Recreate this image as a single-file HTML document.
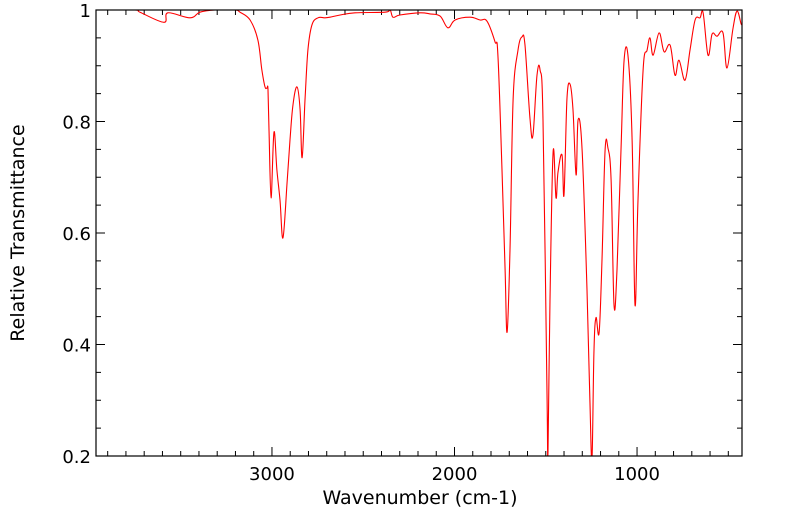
<!DOCTYPE html>
<html><head><meta charset="utf-8"><style>
html,body{margin:0;padding:0;background:#fff;}
svg{display:block;font-family:"DejaVu Sans","Liberation Sans",sans-serif;}
</style></head><body>
<svg id="chart" width="799" height="516" viewBox="0 0 799 516">
<defs><clipPath id="clip"><rect x="96" y="10" width="646" height="446"/></clipPath></defs>
<g id="axes"></g>
<path id="spectrum" clip-path="url(#clip)" fill="none" stroke="#ff0000" stroke-width="1.1" stroke-linejoin="round"/>
<rect x="96" y="10" width="646" height="446" fill="none" stroke="#000" stroke-width="1.2"/>
<text x="420" y="504" font-size="19" text-anchor="middle">Wavenumber (cm-1)</text>
<text transform="translate(24,233) rotate(-90)" font-size="19" text-anchor="middle">Relative Transmittance</text>
</svg>
<script>
const wavenumbers=[3964,3750,3723,3592,3570,3449,3395,3312,3203,3175,3120,3077,3055,3038,3027,3022,3016,3005,2989,2973,2956,2940,2918,2901,2885,2863,2846,2835,2819,2803,2781,2748,2709,2682,2627,2545,2381,2353,2337,2299,2189,2134,2079,2036,1997,1915,1860,1822,1778,1762,1740,1723,1712,1696,1679,1652,1630,1614,1586,1570,1548,1531,1515,1493,1488,1477,1460,1444,1433,1411,1400,1384,1367,1351,1334,1323,1301,1274,1258,1247,1236,1225,1208,1192,1175,1159,1142,1126,1110,1088,1071,1049,1027,1011,995,967,945,929,912,879,852,819,792,770,737,710,682,655,638,611,589,562,529,507,474,452,430,425];
const transmittance=[1.0,1.0,0.996,0.978,0.995,0.986,0.996,1.0,1.0,0.996,0.982,0.946,0.892,0.862,0.860,0.857,0.785,0.663,0.781,0.713,0.659,0.591,0.686,0.767,0.830,0.862,0.821,0.735,0.839,0.928,0.973,0.986,0.986,0.987,0.991,0.995,0.996,1.0,0.987,0.991,0.995,0.993,0.989,0.968,0.982,0.987,0.982,0.980,0.943,0.919,0.713,0.534,0.422,0.570,0.839,0.928,0.952,0.937,0.803,0.776,0.883,0.892,0.803,0.300,0.207,0.480,0.745,0.663,0.709,0.740,0.668,0.839,0.867,0.821,0.704,0.803,0.749,0.498,0.300,0.195,0.390,0.448,0.421,0.552,0.749,0.752,0.695,0.471,0.534,0.749,0.910,0.916,0.767,0.471,0.659,0.892,0.928,0.950,0.919,0.959,0.925,0.937,0.883,0.910,0.874,0.928,0.982,0.986,0.995,0.919,0.957,0.953,0.959,0.896,0.968,0.998,0.975,0.975];
const xTickLabels=[3000,2000,1000];
const yTickLabels=[0.2,0.4,0.6,0.8,1];
const X0=96,X1=742,Y0=10,Y1=456,W_LEFT=3964,W_RIGHT=425,T_MIN=0.2,T_MAX=1.0;
function xScale(w){return X0+(W_LEFT-w)/(W_LEFT-W_RIGHT)*(X1-X0);}
function yScale(t){return Y1-(t-T_MIN)/(T_MAX-T_MIN)*(Y1-Y0);}
const NS='http://www.w3.org/2000/svg';
const axes=document.getElementById('axes');
function line(x1,y1,x2,y2,name){const l=document.createElementNS(NS,'line');l.setAttribute('x1',x1);l.setAttribute('y1',y1);l.setAttribute('x2',x2);l.setAttribute('y2',y2);l.setAttribute('stroke','#000');l.setAttribute('stroke-width','1');


axes.appendChild(l);}
for(let w=500;w<=3900;w+=100){const x=xScale(w);const major=w%1000===0;const len=major?9:5;line(x,Y1,x,Y1-len,'x-tick');line(x,Y0,x,Y0+len,'x-tick-top');}
for(let t=0.2;t<=1.0001;t+=0.05){const y=yScale(t);const major=Math.abs(t*10-Math.round(t*10))<1e-6&&Math.round(t*10)%2===0;const len=major?9:5;line(X0,y,X0+len,y,'y-tick');line(X1,y,X1-len,y,'y-tick-right');}
xTickLabels.forEach(v=>{const t=document.createElementNS(NS,'text');t.setAttribute('x',xScale(v));t.setAttribute('y',480);t.setAttribute('font-size','18');t.setAttribute('text-anchor','middle');t.textContent=v;


axes.appendChild(t);});
yTickLabels.forEach(v=>{const t=document.createElementNS(NS,'text');t.setAttribute('x',91);t.setAttribute('y',yScale(v)+7);t.setAttribute('font-size','18');t.setAttribute('text-anchor','end');t.textContent=v;


axes.appendChild(t);});
const pts=wavenumbers.map((w,i)=>[xScale(w),yScale(transmittance[i])]);
let d='M'+pts[0][0].toFixed(1)+','+pts[0][1].toFixed(1);
const k=0.18;
for(let i=0;i<pts.length-1;i++){
  const p0=pts[Math.max(0,i-1)],p1=pts[i],p2=pts[i+1],p3=pts[Math.min(pts.length-1,i+2)];
  const c1x=p1[0]+(p2[0]-p0[0])*k,c1y=p1[1]+(p2[1]-p0[1])*k;
  const c2x=p2[0]-(p3[0]-p1[0])*k,c2y=p2[1]-(p3[1]-p1[1])*k;
  d+='C'+c1x.toFixed(1)+','+c1y.toFixed(1)+' '+c2x.toFixed(1)+','+c2y.toFixed(1)+' '+p2[0].toFixed(1)+','+p2[1].toFixed(1);
}
document.getElementById('spectrum').setAttribute('d',d);
</script>
</body></html>
